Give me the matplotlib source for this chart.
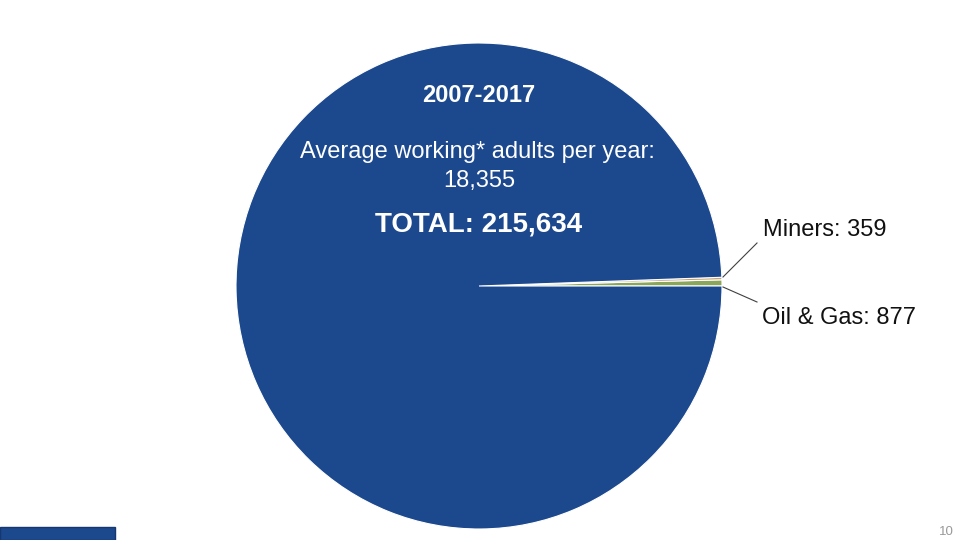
import matplotlib.pyplot as plt
from matplotlib.patches import Rectangle

# data
total = 215634
categories = ["Oil & Gas", "Miners", "Other"]
values = [877, 359, total - 877 - 359]
colors = ["#8aa65a", "#c9a173", "#1c488e"]

avg_working = "18,355"
period = "2007-2017"

plt.rcParams["font.family"] = ["Liberation Sans", "DejaVu Sans"]

fig = plt.figure(figsize=(9.6, 5.4), dpi=100)
ax = fig.add_axes([0, 0, 1, 1])

cx, cy, r = 479, 540 - 286, 243
ax.pie(
    values,
    colors=colors,
    startangle=0,
    counterclock=True,
    center=(cx, cy),
    radius=r,
    frame=True,
    wedgeprops={"edgecolor": "white", "linewidth": 0.8},
)
ax.set_xlim(0, 960)
ax.set_ylim(0, 540)
ax.set_aspect("equal")
ax.axis("off")

# slice labels with leader lines
ax.plot([723, 757], [540 - 277, 540 - 243], color="#404040", lw=0.8)
ax.plot([723, 757], [540 - 287, 540 - 302], color="#404040", lw=0.8)
ax.text(763, 540 - 230, f"Miners: {values[1]}", fontsize=17, color="#111111",
        ha="left", va="center")
ax.text(762, 540 - 318, f"Oil & Gas: {values[0]:,}", fontsize=17, color="#111111",
        ha="left", va="center")

# text block on the pie
ax.text(479, 540 - 95, period, fontsize=17, fontweight="bold", color="white",
        ha="center", va="center")
ax.text(477, 540 - 152, "Average working* adults per year:", fontsize=17,
        color="white", ha="center", va="center")
ax.text(479, 540 - 181, avg_working, fontsize=17, color="white",
        ha="center", va="center")
ax.text(479, 540 - 225, f"TOTAL: {total:,}", fontsize=20,
        fontweight="bold", color="white", ha="center", va="center")

# slide decorations
ax.add_patch(Rectangle((0, 0), 115, 13, facecolor="#1c488e", edgecolor="#16386e", lw=1))
ax.text(946, 540 - 532, "10", fontsize=9.5, color="#999999", ha="center", va="center")

fig.savefig("out.png", dpi=100)
